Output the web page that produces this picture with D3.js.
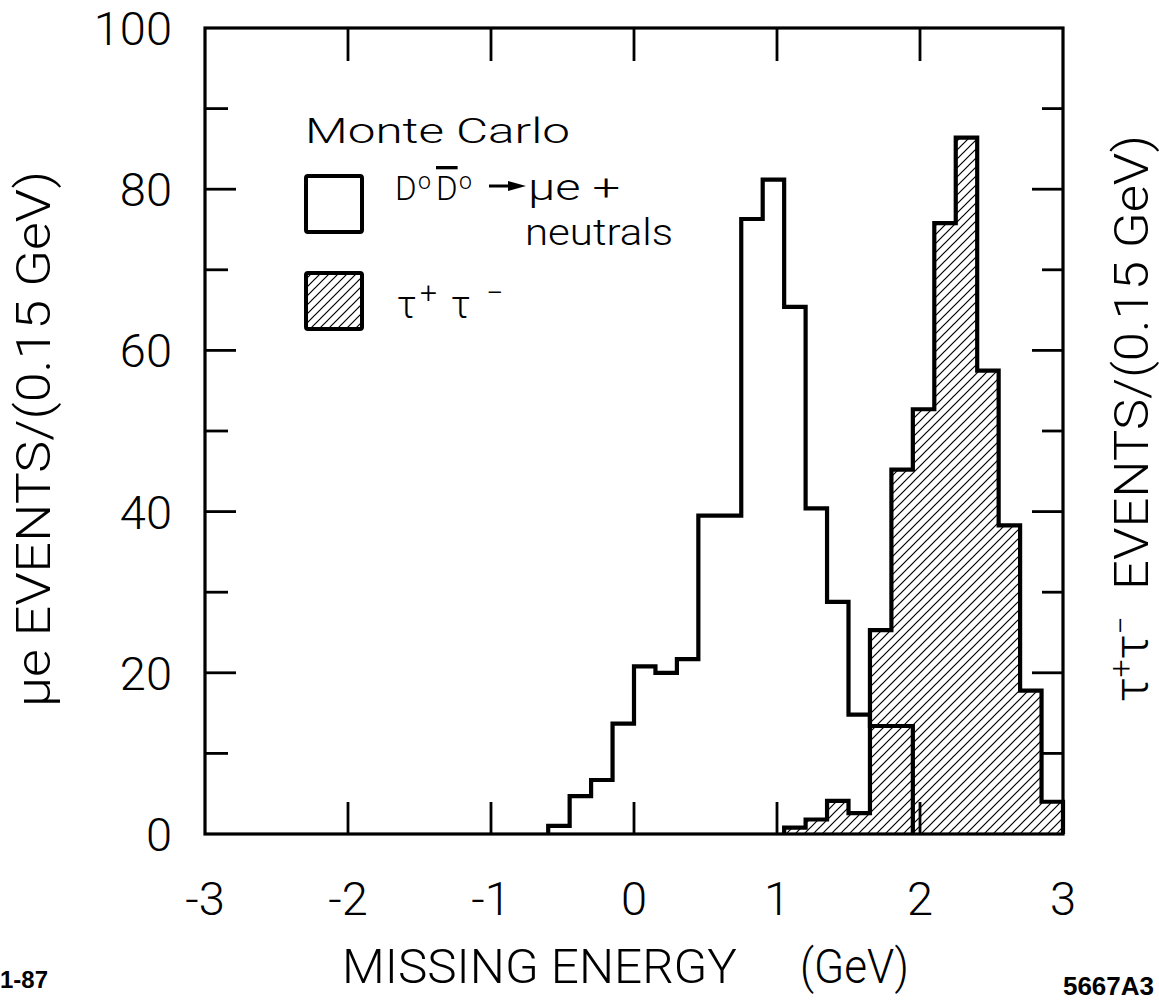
<!DOCTYPE html>
<html><head><meta charset="utf-8">
<script src="https://cdn.jsdelivr.net/npm/d3@7"></script>
<style>body{margin:0;background:#fff}svg{display:block}</style>
</head><body>
<svg id="c" width="1159" height="1003"></svg>
<script>
// ---- data ----
const binWidth = 0.15;
const dLowEdges = [-0.6,-0.45,-0.3,-0.15,0,0.15,0.3,0.45,0.6,0.75,0.9,1.05,1.2,1.35,1.5,1.65,1.8];
const dCounts   = [1,4.7,6.7,13.7,20.8,20.0,21.7,39.5,39.5,76.3,81.2,65.4,40.4,28.8,14.8,13.4,13.4];
const tauLowEdges = [1.05,1.2,1.35,1.5,1.65,1.8,1.95,2.1,2.25,2.4,2.55,2.7,2.85];
const tauCounts   = [0.8,1.8,4.1,2.6,25.3,45.2,52.7,75.8,86.4,57.5,38.3,17.8,4.0];
const xTickValues = [-3,-2,-1,0,1,2,3];
const xTickLabels = ["-3","-2","-1","0","1","2","3"];
const xInnerTicks = [-2,-1,0,1,2];
const yMajorTicks = [0,20,40,60,80,100];
const yMinorTicks = [10,30,50,70,90];
const yTickLabels = ["0","20","40","60","80","100"];

const FONT = 'Roboto,"Liberation Sans",Arial,sans-serif';
const svg = d3.select("#c");
const x = d3.scaleLinear().domain([-3,3]).range([205,1063]);
const y = d3.scaleLinear().domain([0,100]).range([834,28]);

// hatch pattern
const defs = svg.append("defs");
const pat = defs.append("pattern").attr("id","hatch").attr("patternUnits","userSpaceOnUse")
  .attr("width",9).attr("height",9);
pat.append("path").attr("d","M-2,2 L2,-2 M0,9 L9,0 M7,11 L11,7")
  .attr("stroke","#000").attr("stroke-width",1.2);

function histPoints(edges, counts){
  const pts = [[x(edges[0]), y(0)]];
  edges.forEach((e,i)=>{
    pts.push([x(e), y(counts[i])]);
    pts.push([x(e+binWidth), y(counts[i])]);
  });
  pts.push([x(edges[edges.length-1]+binWidth), y(0)]);
  return pts;
}
const line = d3.line();

// tau (hatched)
const tauPts = histPoints(tauLowEdges, tauCounts);
svg.append("path").attr("d", line(tauPts)+"Z").attr("fill","url(#hatch)").attr("stroke","none");
svg.append("path").attr("d", line(tauPts)).attr("fill","none").attr("stroke","#000")
  .attr("stroke-width",4.2).attr("stroke-linejoin","miter");
// D0 D0bar (open)
svg.append("path").attr("d", line(histPoints(dLowEdges, dCounts))).attr("fill","none")
  .attr("stroke","#000").attr("stroke-width",4.2).attr("stroke-linejoin","miter");

// frame
svg.append("rect").attr("x",x(-3)).attr("y",y(100)).attr("width",x(3)-x(-3)).attr("height",y(0)-y(100))
  .attr("fill","none").attr("stroke","#000").attr("stroke-width",3.2);

// ticks (inward)
const yt = svg.append("g").attr("stroke","#000").attr("stroke-width",2.8);
yMajorTicks.filter(v=>v>0&&v<100).forEach(v=>{
  yt.append("line").attr("x1",x(-3)).attr("x2",x(-3)+31).attr("y1",y(v)).attr("y2",y(v));
  yt.append("line").attr("x1",x(3)).attr("x2",x(3)-31).attr("y1",y(v)).attr("y2",y(v));
});
yMinorTicks.forEach(v=>{
  yt.append("line").attr("x1",x(-3)).attr("x2",x(-3)+23).attr("y1",y(v)).attr("y2",y(v));
  yt.append("line").attr("x1",x(3)).attr("x2",x(3)-21).attr("y1",y(v)).attr("y2",y(v));
});
xInnerTicks.forEach(v=>{
  yt.append("line").attr("x1",x(v)).attr("x2",x(v)).attr("y1",y(0)).attr("y2",y(0)-32);
  yt.append("line").attr("x1",x(v)).attr("x2",x(v)).attr("y1",y(100)).attr("y2",y(100)+33);
});

// tick labels
const tl = svg.append("g").attr("font-family",FONT).attr("font-weight",300).attr("fill","#000");
yMajorTicks.forEach((v,i)=>{
  tl.append("text").attr("x",172).attr("y",y(v)+17).attr("text-anchor","end")
    .attr("font-size",47).text(yTickLabels[i]);
});
xTickValues.forEach((v,i)=>{
  tl.append("text").attr("x",x(v)).attr("y",915).attr("text-anchor","middle")
    .attr("font-size",47).text(xTickLabels[i]);
});

// x axis title
const xt = tl.append("text").attr("y",983).attr("font-size",49);
xt.append("tspan").attr("x",342).attr("textLength",395).attr("lengthAdjust","spacingAndGlyphs").text("MISSING ENERGY");
xt.append("tspan").attr("x",800).attr("textLength",109).attr("lengthAdjust","spacingAndGlyphs").text("(GeV)");

// y axis titles
tl.append("text").attr("transform","translate(50,707) rotate(-90)").attr("font-size",48)
  .attr("textLength",536).attr("lengthAdjust","spacingAndGlyphs").text("μe EVENTS/(0.15 GeV)");

const rg = tl.append("g").attr("transform","translate(1148,702) rotate(-90)");
const rt = rg.append("text").attr("x",0).attr("y",0).attr("font-size",48);
rt.append("tspan").text("τ");
rt.append("tspan").attr("dy",-16).attr("font-size",32).text("+");
rt.append("tspan").attr("dy",16).text("τ");
rt.append("tspan").attr("dy",-16).attr("font-size",32).text("−");
rg.append("text").attr("x",112).attr("y",0).attr("font-size",48)
  .attr("textLength",455).attr("lengthAdjust","spacingAndGlyphs").text("EVENTS/(0.15 GeV)");

// legend
tl.append("text").attr("x",305).attr("y",143).attr("font-size",35)
  .attr("textLength",265).attr("lengthAdjust","spacingAndGlyphs").text("Monte Carlo");
svg.append("rect").attr("x",306).attr("y",176).attr("width",56).attr("height",56).attr("rx",2)
  .attr("fill","#fff").attr("stroke","#000").attr("stroke-width",4);
svg.append("rect").attr("x",306).attr("y",273).attr("width",56).attr("height",56).attr("rx",2)
  .attr("fill","url(#hatch)").attr("stroke","#000").attr("stroke-width",4);

const l1 = tl.append("text").attr("y",200).attr("font-size",33);
l1.append("tspan").attr("x",395).text("D");
l1.append("tspan").attr("x",418).attr("dy",-11).attr("font-size",23).text("o");
l1.append("tspan").attr("x",436).attr("dy",11).attr("text-decoration","overline").text("D");
l1.append("tspan").attr("x",459).attr("dy",-11).attr("font-size",23).text("o");
// arrow
svg.append("line").attr("x1",489).attr("x2",512).attr("y1",186).attr("y2",186)
  .attr("stroke","#000").attr("stroke-width",3);
svg.append("path").attr("d","M508,181 L526,186 L508,191 Z").attr("fill","#000");
tl.append("text").attr("x",528).attr("y",200).attr("font-size",36)
  .attr("textLength",92).attr("lengthAdjust","spacingAndGlyphs").text("μe +");
tl.append("text").attr("x",525).attr("y",245).attr("font-size",36)
  .attr("textLength",148).attr("lengthAdjust","spacingAndGlyphs").text("neutrals");

const l2 = tl.append("text").attr("y",318).attr("font-size",38);
l2.append("tspan").attr("x",397).text("τ");
l2.append("tspan").attr("x",420).attr("dy",-15).attr("font-size",30).text("+");
l2.append("tspan").attr("x",451).attr("dy",15).text("τ");
l2.append("tspan").attr("x",486).attr("dy",-15).attr("font-size",30).text("−");

// footer codes
svg.append("text").attr("x",0).attr("y",988).attr("font-family","'Liberation Sans',Arial,sans-serif")
  .attr("font-size",24).attr("font-weight","bold").text("1-87");
svg.append("text").attr("x",1154).attr("y",995).attr("text-anchor","end")
  .attr("font-family","'Liberation Sans',Arial,sans-serif")
  .attr("font-size",26).attr("font-weight","bold").text("5667A3");
</script>
</body></html>
